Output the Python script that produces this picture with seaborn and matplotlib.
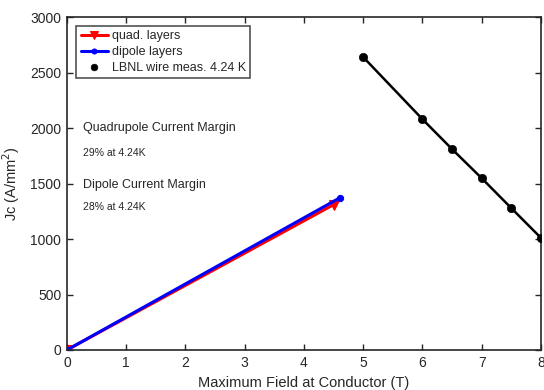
import matplotlib
matplotlib.use("Agg")
import matplotlib.pyplot as plt
import seaborn as sns
import pandas as pd

quad_field = [0.0, 4.5]
quad_jc = [0.0, 1310.0]
dip_field = [0.0, 4.6]
dip_jc = [0.0, 1370.0]
lbnl_field = [5.0, 6.0, 6.5, 7.0, 7.5, 8.0]
lbnl_jc = [2640.0, 2080.0, 1810.0, 1548.0, 1278.0, 1010.0]

sns.set_style("ticks")
plt.rcParams['font.family'] = ['Liberation Sans', 'DejaVu Sans']
plt.rcParams['xtick.direction'] = 'in'
plt.rcParams['ytick.direction'] = 'in'

fig = plt.figure(figsize=(5.44, 3.90), dpi=100)
ax = fig.add_axes([0.123, 0.1026, 0.8715, 0.8534])

sns.lineplot(x=quad_field, y=quad_jc, ax=ax, color='#ff0000', lw=2.2,
             marker='v', markersize=6.5, markeredgecolor='#ff0000', label='quad. layers')
sns.lineplot(x=dip_field, y=dip_jc, ax=ax, color='#0000ff', lw=2.2,
             marker='o', markersize=4.5, markeredgecolor='#0000ff', label='dipole layers')
sns.lineplot(x=lbnl_field, y=lbnl_jc, ax=ax, color='black', lw=1.8, legend=False)
sns.scatterplot(x=lbnl_field, y=lbnl_jc, ax=ax, color='black', s=36,
                edgecolor='black', label='LBNL wire meas. 4.24 K', zorder=5)

ax.set_xlim(0, 8)
ax.set_ylim(0, 3000)
ax.set_xticks(range(0, 9))
ax.set_yticks(range(0, 3001, 500))
ax.tick_params(top=True, right=True, labelsize=10, length=4, width=1, colors='#262626', pad=4)
for s in ax.spines.values():
    s.set_visible(True)
    s.set_linewidth(1.2)
    s.set_color('#262626')

ax.set_xlabel('Maximum Field at Conductor (T)', fontsize=10.5, color='#262626', labelpad=5)
ax.set_ylabel('Jc (A/mm$^2$)', fontsize=10.5, color='#262626', labelpad=6)

ax.text(0.27, 2000, 'Quadrupole Current Margin', fontsize=9, va='center')
ax.text(0.27, 1775, '29% at 4.24K', fontsize=7.5, va='center')
ax.text(0.27, 1487, 'Dipole Current Margin', fontsize=9, va='center')
ax.text(0.27, 1290, '28% at 4.24K', fontsize=7.5, va='center')

leg = ax.legend(loc='upper left', bbox_to_anchor=(0.012, 0.985), frameon=True, fancybox=False,
                edgecolor='#262626', fontsize=9, handlelength=2.2, handletextpad=0.3,
                borderpad=0.35, labelspacing=0.3, borderaxespad=0.3, markerscale=0.8)
leg.get_frame().set_linewidth(1.2)

fig.savefig('out.png', dpi=100)
